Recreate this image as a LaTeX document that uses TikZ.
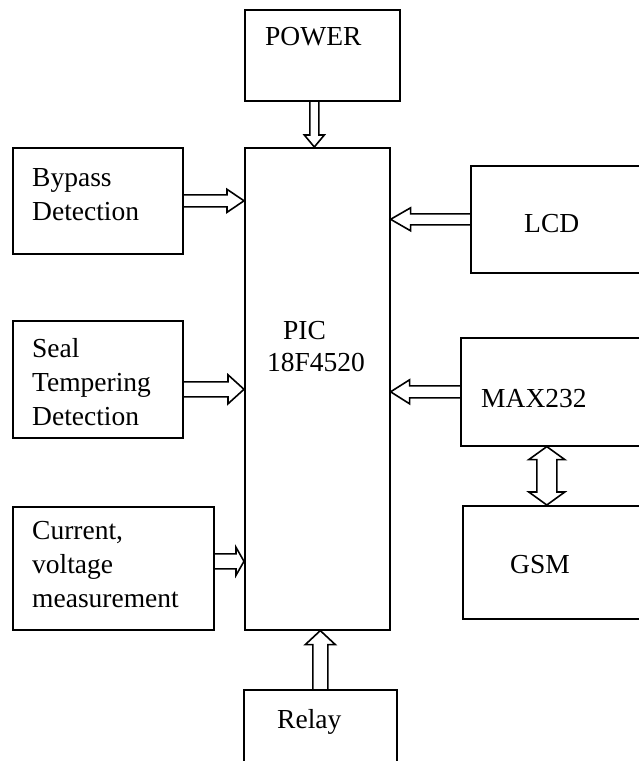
\documentclass[tikz,border=0pt]{standalone}
\usepackage{fontspec}
\setmainfont{Liberation Serif}
\usetikzlibrary{calc}

% hollow block arrow: from, to, half shaft, half head, head length
\newcommand{\blockarrow}[5]{%
  \path (#1) coordinate (ba-s) (#2) coordinate (ba-e);
  \path ($(ba-e)!#5!(ba-s)$) coordinate (ba-m);
  \draw[blkarr] ($(ba-s)!#3!90:(ba-e)$) -- ($(ba-m)!#3!-90:(ba-s)$)
    -- ($(ba-m)!#4!-90:(ba-s)$) -- (ba-e) -- ($(ba-m)!#4!90:(ba-s)$)
    -- ($(ba-m)!#3!90:(ba-s)$) -- ($(ba-s)!#3!-90:(ba-e)$);
}
% hollow block arrow with two heads
\newcommand{\dblockarrow}[5]{%
  \path (#1) coordinate (ba-s) (#2) coordinate (ba-e);
  \path ($(ba-e)!#5!(ba-s)$) coordinate (ba-m) ($(ba-s)!#5!(ba-e)$) coordinate (ba-n);
  \draw[blkarr] (ba-s) -- ($(ba-n)!#4!-90:(ba-s)$) -- ($(ba-n)!#3!-90:(ba-s)$)
    -- ($(ba-m)!#3!-90:(ba-s)$) -- ($(ba-m)!#4!-90:(ba-s)$) -- (ba-e)
    -- ($(ba-m)!#4!90:(ba-s)$) -- ($(ba-m)!#3!90:(ba-s)$)
    -- ($(ba-n)!#3!90:(ba-s)$) -- ($(ba-n)!#4!90:(ba-s)$) -- cycle;
}

\tikzset{
  blk/.style={draw,line width=1.6pt,rectangle,inner sep=0pt,anchor=north west},
  txt/.style={inner sep=0pt,anchor=base west,align=left,font=\fontsize{27.5}{34}\selectfont},
  blkarr/.style={line width=1.6pt,line join=miter}
}

\begin{document}
\begin{tikzpicture}[x=1pt,y=-1pt]
\clip (0,0) rectangle (639,761);
% boxes
\node[blk,minimum width=155,minimum height=91] (power) at (244,9) {};
\node[blk,minimum width=145,minimum height=482] (pic) at (244,147) {};
\node[blk,minimum width=170,minimum height=106] (bypass) at (12,147) {};
\node[blk,minimum width=170,minimum height=117] (seal) at (12,320) {};
\node[blk,minimum width=201,minimum height=123] (meas) at (12,506) {};
\node[blk,minimum width=200,minimum height=107] (lcd) at (470,165) {};
\node[blk,minimum width=200,minimum height=108] (max) at (460,337) {};
\node[blk,minimum width=200,minimum height=113] (gsm) at (462,505) {};
\node[blk,minimum width=153,minimum height=120] (relay) at (243,689) {};
% texts (multi-line ones sit on the last baseline)
\node[txt] (power-txt) at (265,45) {POWER};
\node[txt] (pic-txt) at (267,371) {\hspace*{16pt}PIC\\[-2pt]18F4520};
\node[txt] (bypass-txt) at (32,220) {Bypass\\Detection};
\node[txt] (seal-txt) at (32,425) {Seal\\Tempering\\Detection};
\node[txt] (meas-txt) at (32,607) {Current,\\voltage\\measurement};
\node[txt] (lcd-txt) at (524,232) {LCD};
\node[txt] (max-txt) at (481,407) {MAX232};
\node[txt] (gsm-txt) at (510,573) {GSM};
\node[txt] (relay-txt) at (277,728) {Relay};
% arrows
\blockarrow{$(pic.north |- power.south)+(-3,0)$}{$(pic.north)+(-3,0)$}{4.5pt}{10pt}{12pt}
\blockarrow{bypass.east}{bypass.east -| pic.west}{6pt}{11.5pt}{17pt}
\blockarrow{[yshift=-10pt]seal.east}{[yshift=-10pt]seal.east -| pic.west}{7.5pt}{14.5pt}{16pt}
\blockarrow{[yshift=7pt]meas.east}{[yshift=7pt]meas.east -| pic.west}{7.5pt}{14pt}{8pt}
\blockarrow{lcd.west}{lcd.west -| pic.east}{5.5pt}{11.5pt}{20pt}
\blockarrow{max.west}{max.west -| pic.east}{6pt}{12pt}{19pt}
\blockarrow{relay.north}{relay.north |- pic.south}{7.5pt}{15pt}{14pt}
\dblockarrow{[xshift=-14pt]max.south}{[xshift=-16pt]gsm.north}{10pt}{18pt}{13pt}
\end{tikzpicture}
\end{document}
